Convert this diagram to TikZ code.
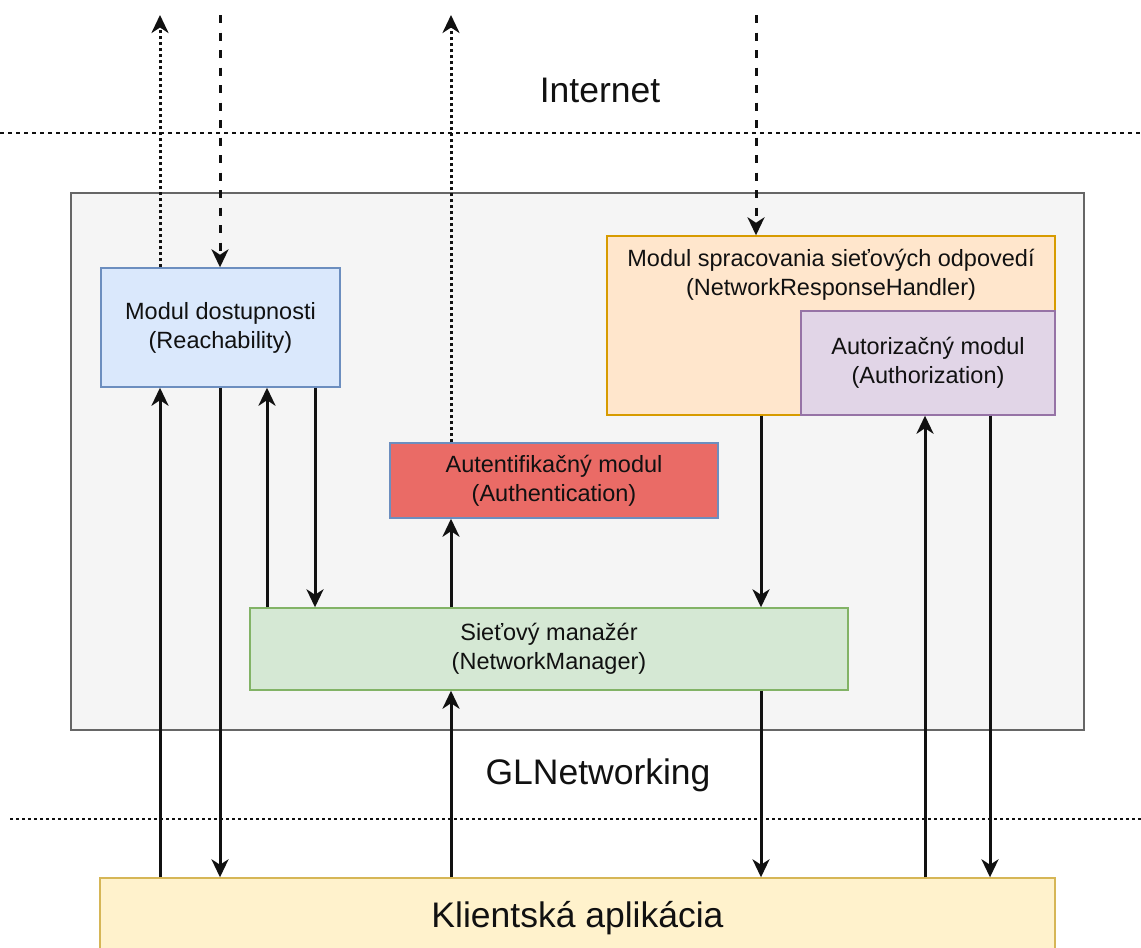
\documentclass[tikz,border=0pt]{standalone}
\usepackage{fontspec}
\setmainfont{Liberation Sans}
\usetikzlibrary{arrows.meta}
\definecolor{libfill}{HTML}{F5F5F5}
\definecolor{libline}{HTML}{666666}
\definecolor{bluefill}{HTML}{DAE8FC}
\definecolor{blueline}{HTML}{6C8EBF}
\definecolor{orangefill}{HTML}{FFE6CC}
\definecolor{orangeline}{HTML}{D79B00}
\definecolor{purplefill}{HTML}{E1D5E7}
\definecolor{purpleline}{HTML}{9673A6}
\definecolor{redfill}{HTML}{EA6B66}
\definecolor{greenfill}{HTML}{D5E8D4}
\definecolor{greenline}{HTML}{82B366}
\definecolor{yellowfill}{HTML}{FFF2CC}
\definecolor{yellowline}{HTML}{D6B656}
\definecolor{ink}{HTML}{111111}
\begin{document}
\begin{tikzpicture}[x=1pt,y=-1pt,
  box/.style={draw, line width=1.4pt, inner sep=0pt, align=center,
    text=ink, font=\fontsize{23.5}{29}\selectfont},
  biglabel/.style={inner sep=0pt, text=ink, font=\fontsize{35.5}{40}\selectfont},
  tip/.style={-{Stealth[length=18pt,width=17pt,inset=5.5pt]}},
  arr/.style={tip, line width=3pt, ink},
  dotarr/.style={tip, line width=3pt, ink, dash pattern=on 3pt off 3pt},
  dasharr/.style={tip, line width=3pt, ink, dash pattern=on 8pt off 9.5pt},
  sep/.style={line width=1.4pt, ink, dash pattern=on 4pt off 4pt}]
\clip (0,0) rectangle (1141,948);
\fill[white] (0,0) rectangle (1141,948);

% layer separators and their titles
\draw[sep] (0,133) -- (1141,133);
\draw[sep, dash pattern=on 3pt off 3pt] (10,819) -- (1141,819);
\node[biglabel] (internet) at (600,90) {Internet};
\node[biglabel] (glnet) at (598,775) {GLNetworking};

% library container
\node[box, fill=libfill, draw=libline, minimum width=1013pt, minimum height=537pt]
  (lib) at (577.5,461.5) {};

% modules
\node[box, fill=bluefill, draw=blueline, minimum width=239pt, minimum height=119pt]
  (reach) at (220.5,327.5) {Modul dostupnosti\\(Reachability)};
\node[box, fill=orangefill, draw=orangeline, minimum width=448pt, minimum height=179pt]
  (nrh) at (831,325.5) {};
\node[inner sep=0pt, align=center, text=ink, font=\fontsize{23.5}{29}\selectfont]
  (nrhlabel) at (831,275) {Modul spracovania sieťových odpovedí\\(NetworkResponseHandler)};
\node[box, fill=purplefill, draw=purpleline, minimum width=254pt, minimum height=104pt]
  (authz) at (928,363) {Autorizačný modul\\(Authorization)};
\node[box, fill=redfill, draw=blueline, minimum width=328pt, minimum height=75pt]
  (authn) at (554,480.5) {Autentifikačný modul\\(Authentication)};
\node[box, fill=greenfill, draw=greenline, minimum width=598pt, minimum height=82pt]
  (nm) at (549,649) {Sieťový manažér\\(NetworkManager)};
\node[box, fill=yellowfill, draw=yellowline, minimum width=955pt, minimum height=80pt,
  font=\fontsize{35.5}{40}\selectfont]
  (client) at (577.5,918) {Klientská aplikácia};

% connector columns and free ends above the Internet line
\coordinate (c160) at (160,15);
\coordinate (c220) at (220,15);
\coordinate (c267) at (267,0);
\coordinate (c315) at (315,0);
\coordinate (c451) at (451,15);
\coordinate (c756) at (756,15);
\coordinate (c761) at (761,0);
\coordinate (c925) at (925,0);
\coordinate (c990) at (990,0);

% traffic to and from the Internet
\draw[dotarr] (reach.north -| c160) -- (c160);
\draw[dasharr] (c220) -- (reach.north -| c220);
\draw[dotarr] (authn.north -| c451) -- (c451);
\draw[dasharr] (c756) -- (nrh.north -| c756);

% client application <-> reachability
\draw[arr] (client.north -| c160) -- (reach.south -| c160);
\draw[arr] (reach.south -| c220) -- (client.north -| c220);

% network manager <-> reachability
\draw[arr] (nm.north -| c267) -- (reach.south -| c267);
\draw[arr] (reach.south -| c315) -- (nm.north -| c315);

% network manager -> authentication, client -> network manager
\draw[arr] (nm.north -| c451) -- (authn.south -| c451);
\draw[arr] (client.north -| c451) -- (nm.south -| c451);

% response handler -> network manager -> client
\draw[arr] (nrh.south -| c761) -- (nm.north -| c761);
\draw[arr] (nm.south -| c761) -- (client.north -| c761);

% client <-> authorization
\draw[arr] (client.north -| c925) -- (authz.south -| c925);
\draw[arr] (authz.south -| c990) -- (client.north -| c990);
\end{tikzpicture}
\end{document}
